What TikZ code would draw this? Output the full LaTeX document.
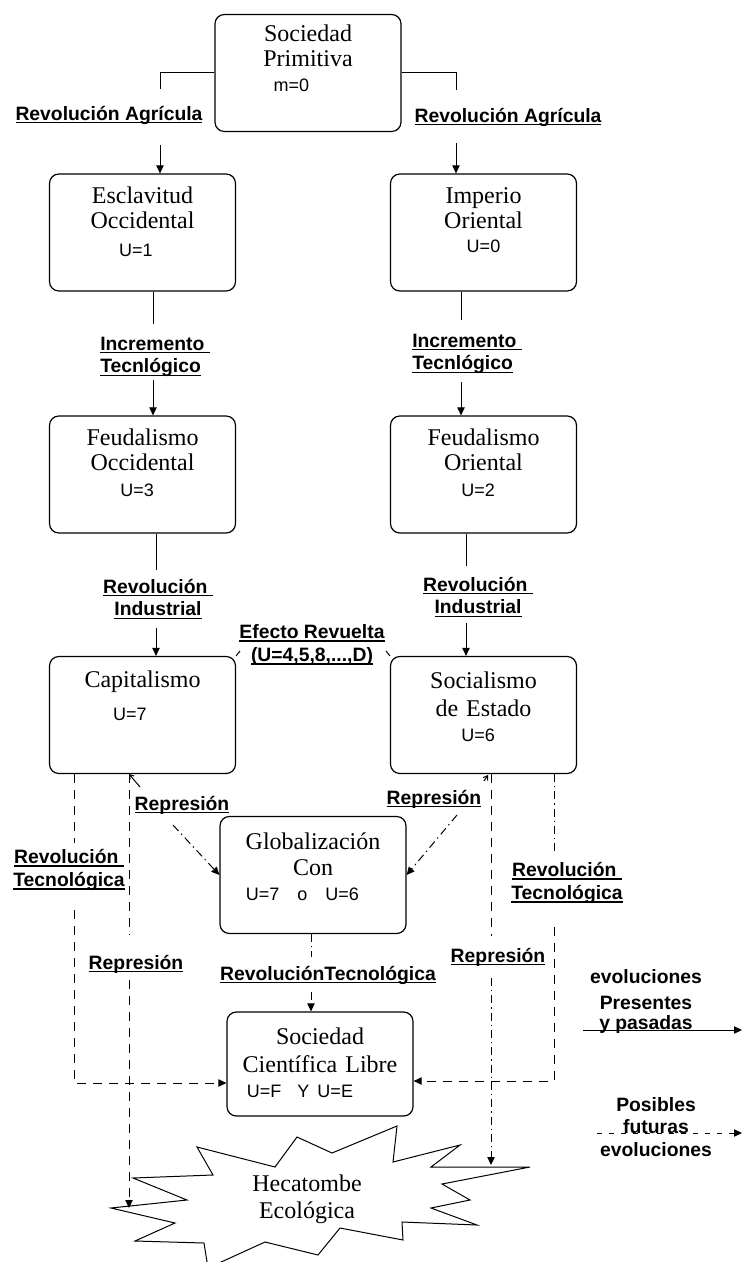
\documentclass[tikz,border=0pt]{standalone}
\usepackage{fontspec}
\setmainfont{Liberation Serif}
\newfontfamily\lblfont{Liberation Sans}
\usetikzlibrary{arrows.meta}

% underlined label text, rule close to the baseline
\newcommand\ulbl[1]{\setbox0\hbox{#1}\rlap{\rule[-2.4pt]{\wd0}{1.1pt}}\box0}
% value line of a box, optionally pushed left
\newcommand\val[2][0pt]{\leavevmode\hbox{\kern-#1\lblfont\fontsize{13.5pt}{19pt}\selectfont #2}}

\begin{document}
\begin{tikzpicture}[x=0.75pt,y=-0.75pt,
    box/.style={draw,line width=0.9pt,rounded corners=7pt,inner sep=0pt,
      text width=139.5pt,align=center,text height=22pt,text depth=65.75pt,
      font=\fontsize{18pt}{19pt}\selectfont},
    lbl/.style={inner sep=0pt,align=center,
      font=\lblfont\bfseries\fontsize{14.5pt}{17pt}\selectfont},
    link/.style={line width=0.75pt},
    arr/.style={link,-{Triangle[length=6pt,width=5.5pt]}},
    back/.style={link,{Straight Barb[length=3pt,width=4pt]}-},
    longdash/.style={dash pattern=on 7pt off 5pt},
    dotdash/.style={dash pattern=on 6pt off 3pt on 1pt off 3pt}]
  \useasboundingbox (0,0) rectangle (743,1262);

  % boxes
  \node[box,text height=20pt,text depth=67.75pt] (prim) at (308,73)
    {Sociedad\\Primitiva\\\val[25pt]{m=0}};
  \node[box] (escl) at (142.5,232.5) {Esclavitud\\Occidental\\[2pt]\val[10pt]{U=1}};
  \node[box] (imper) at (483.5,232.5) {Imperio\\Oriental\\[-1pt]\val{U=0}};
  \node[box] (feudocc) at (142.5,474.5) {Feudalismo\\Occidental\\\val[8pt]{U=3}};
  \node[box] (feudori) at (483.5,474.5) {Feudalismo\\Oriental\\\val[8pt]{U=2}};
  \node[box,text height=23pt,text depth=64.75pt] (capit) at (142.5,715)
    {Capitalismo\\[6pt]\val[19pt]{U=7}};
  \node[box,text height=24pt,text depth=63.75pt] (social) at (483.5,715)
    {Socialismo\\[2pt]de Estado\\\val[8pt]{U=6}};
  \node[box,text height=25pt,text depth=62.75pt] (glob) at (313,875)
    {Globalización\\Con\\\val[16pt]{U=7\quad o\quad U=6}};
  \node[box,text height=24pt,text depth=54pt] (libre) at (320,1064)
    {Sociedad\\[2pt]Científica Libre\\\val[30pt]{U=F\ \ Y U=E}};

  % star
  \draw[link] (197,1147) -- (275,1167) -- (297,1137) -- (332,1153) -- (397,1126)
    -- (393,1162) -- (460,1145) -- (431,1167) -- (530,1167) -- (442,1184)
    -- (470,1200) -- (431,1208) -- (477,1225) -- (402,1222) -- (403,1240)
    -- (340,1228) -- (318,1255) -- (265,1242) -- (208,1268) -- (204,1243)
    -- (135,1241) -- (175,1223) -- (111,1208) -- (187,1200) -- (133,1178)
    -- (213,1175) -- cycle;
  \node[align=center,inner sep=0pt,font=\fontsize{18pt}{20pt}\selectfont] (hecat)
    at (307,1199) {Hecatombe\\Ecológica};

  % labels
  \node[lbl] (agr1) at (109,115) {\ulbl{Revolución Agrícula}};
  \node[lbl] (agr2) at (508,117) {\ulbl{Revolución Agrícula}};
  \node[lbl,align=left,anchor=west] (inc1) at (100,357) {\ulbl{Incremento\ }\\\ulbl{Tecnlógico}};
  \node[lbl,align=left,anchor=west] (inc2) at (412,354) {\ulbl{Incremento\ }\\\ulbl{Tecnlógico}};
  \node[lbl] (ind1) at (158,599) {\ulbl{Revolución\ }\\\ulbl{Industrial}};
  \node[lbl] (ind2) at (478,597) {\ulbl{Revolución\ }\\\ulbl{Industrial}};
  \node[lbl] (efecto) at (312,645) {\ulbl{Efecto Revuelta}\\\ulbl{(U=4,5,8,...,D)}};
  \node[lbl] (rep1) at (182,805) {\ulbl{Represión}};
  \node[lbl] (rep2) at (434,799) {\ulbl{Represión}};
  \node[lbl] (rtec1) at (69,870) {\ulbl{Revolución\ }\\\ulbl{Tecnológica}};
  \node[lbl] (rtec2) at (567,883) {\ulbl{Revolución\ }\\\ulbl{Tecnológica}};
  \node[lbl] (rep3) at (136,964) {\ulbl{Represión}};
  \node[lbl] (rep4) at (498,957) {\ulbl{Represión}};
  \node[lbl] (rtglob) at (328,975) {\ulbl{RevoluciónTecnológica}};

  % legend
  \node[lbl,font=\lblfont\bfseries\fontsize{14.5pt}{19.5pt}\selectfont] (leg1)
    at (646,1001) {evoluciones\\Presentes\\[-4.5pt]y pasadas};
  \node[lbl] (leg2) at (656,1127) {Posibles\\futuras\\evoluciones};

  % break points of the connectors
  \coordinate (p1) at (160,89);  \coordinate (p2) at (160,145);
  \coordinate (p3) at (456,90);  \coordinate (p4) at (456,143);
  \coordinate (e1) at (153,324); \coordinate (e2) at (153,380);
  \coordinate (i1) at (461,320); \coordinate (i2) at (461,382);
  \coordinate (f1) at (156,570); \coordinate (f2) at (156,628);
  \coordinate (g1) at (466,566); \coordinate (g2) at (466,623);
  \coordinate (s1) at (240,651); \coordinate (s2) at (386,651);
  \coordinate (t1) at (74,843);  \coordinate (t2) at (74,910);  \coordinate (t3) at (74,1083);
  \coordinate (u1) at (554,853); \coordinate (u2) at (554,927); \coordinate (u3) at (554,1081);
  \coordinate (r1) at (129,774); \coordinate (r2) at (140,787); \coordinate (r3) at (173,825);
  \coordinate (q1) at (488,775); \coordinate (q2) at (484,781); \coordinate (q3) at (457,815);
  \coordinate (v1) at (129,935); \coordinate (v2) at (129,980); \coordinate (v3) at (129,1208);
  \coordinate (w1) at (491,936); \coordinate (w2) at (491,978); \coordinate (w3) at (491,1165);
  \coordinate (y1) at (311,957); \coordinate (y2) at (311,992);
  \coordinate (l1) at (583,1030); \coordinate (l2) at (742,1030);
  \coordinate (l3) at (597,1133); \coordinate (l4) at (742,1133);

  % present and past evolutions
  \draw[link] (prim.west) -| (p1);
  \draw[arr] (p2) -- (p2 |- escl.north);
  \draw[link] (prim.east) -| (p3);
  \draw[arr] (p4) -- (p4 |- imper.north);
  \draw[link] (e1 |- escl.south) -- (e1);
  \draw[arr] (e2) -- (e2 |- feudocc.north);
  \draw[link] (i1 |- imper.south) -- (i1);
  \draw[arr] (i2) -- (i2 |- feudori.north);
  \draw[link] (f1 |- feudocc.south) -- (f1);
  \draw[arr] (f2) -- (f2 |- capit.north);
  \draw[link] (g1 |- feudori.south) -- (g1);
  \draw[arr] (g2) -- (g2 |- social.north);
  \draw[link] (s1) -- (capit.north east);
  \draw[link] (s2) -- (social.north west);

  % possible future evolutions
  \draw[link,longdash] (t1 |- capit.south) -- (t1);
  \draw[arr,longdash] (t2) -- (t3) -- (t3 -| libre.west);
  \draw[link,dotdash] (u1 |- social.south) -- (u1);
  \draw[arr,longdash] (u2) -- (u3) -- (u3 -| libre.east);
  \draw[back] (r1) -- (r2);
  \draw[arr,dotdash] (r3) -- (glob.west);
  \draw[back] (q1) -- (q2);
  \draw[arr,dotdash] (q3) -- (glob.east);
  \draw[link,longdash] (r1) -- (v1);
  \draw[arr,longdash] (v2) -- (v3);
  \draw[link,longdash] (w1 |- social.south) -- (w1);
  \draw[arr,dotdash] (w2) -- (w3);
  \draw[link,dotdash] (y1 |- glob.south) -- (y1);
  \draw[arr,dotdash] (y2) -- (y2 |- libre.north);

  % legend arrows
  \draw[arr] (l1) -- (l2);
  \draw[arr,dash pattern=on 4pt off 5pt] (l3) -- (l4);
\end{tikzpicture}
\end{document}
